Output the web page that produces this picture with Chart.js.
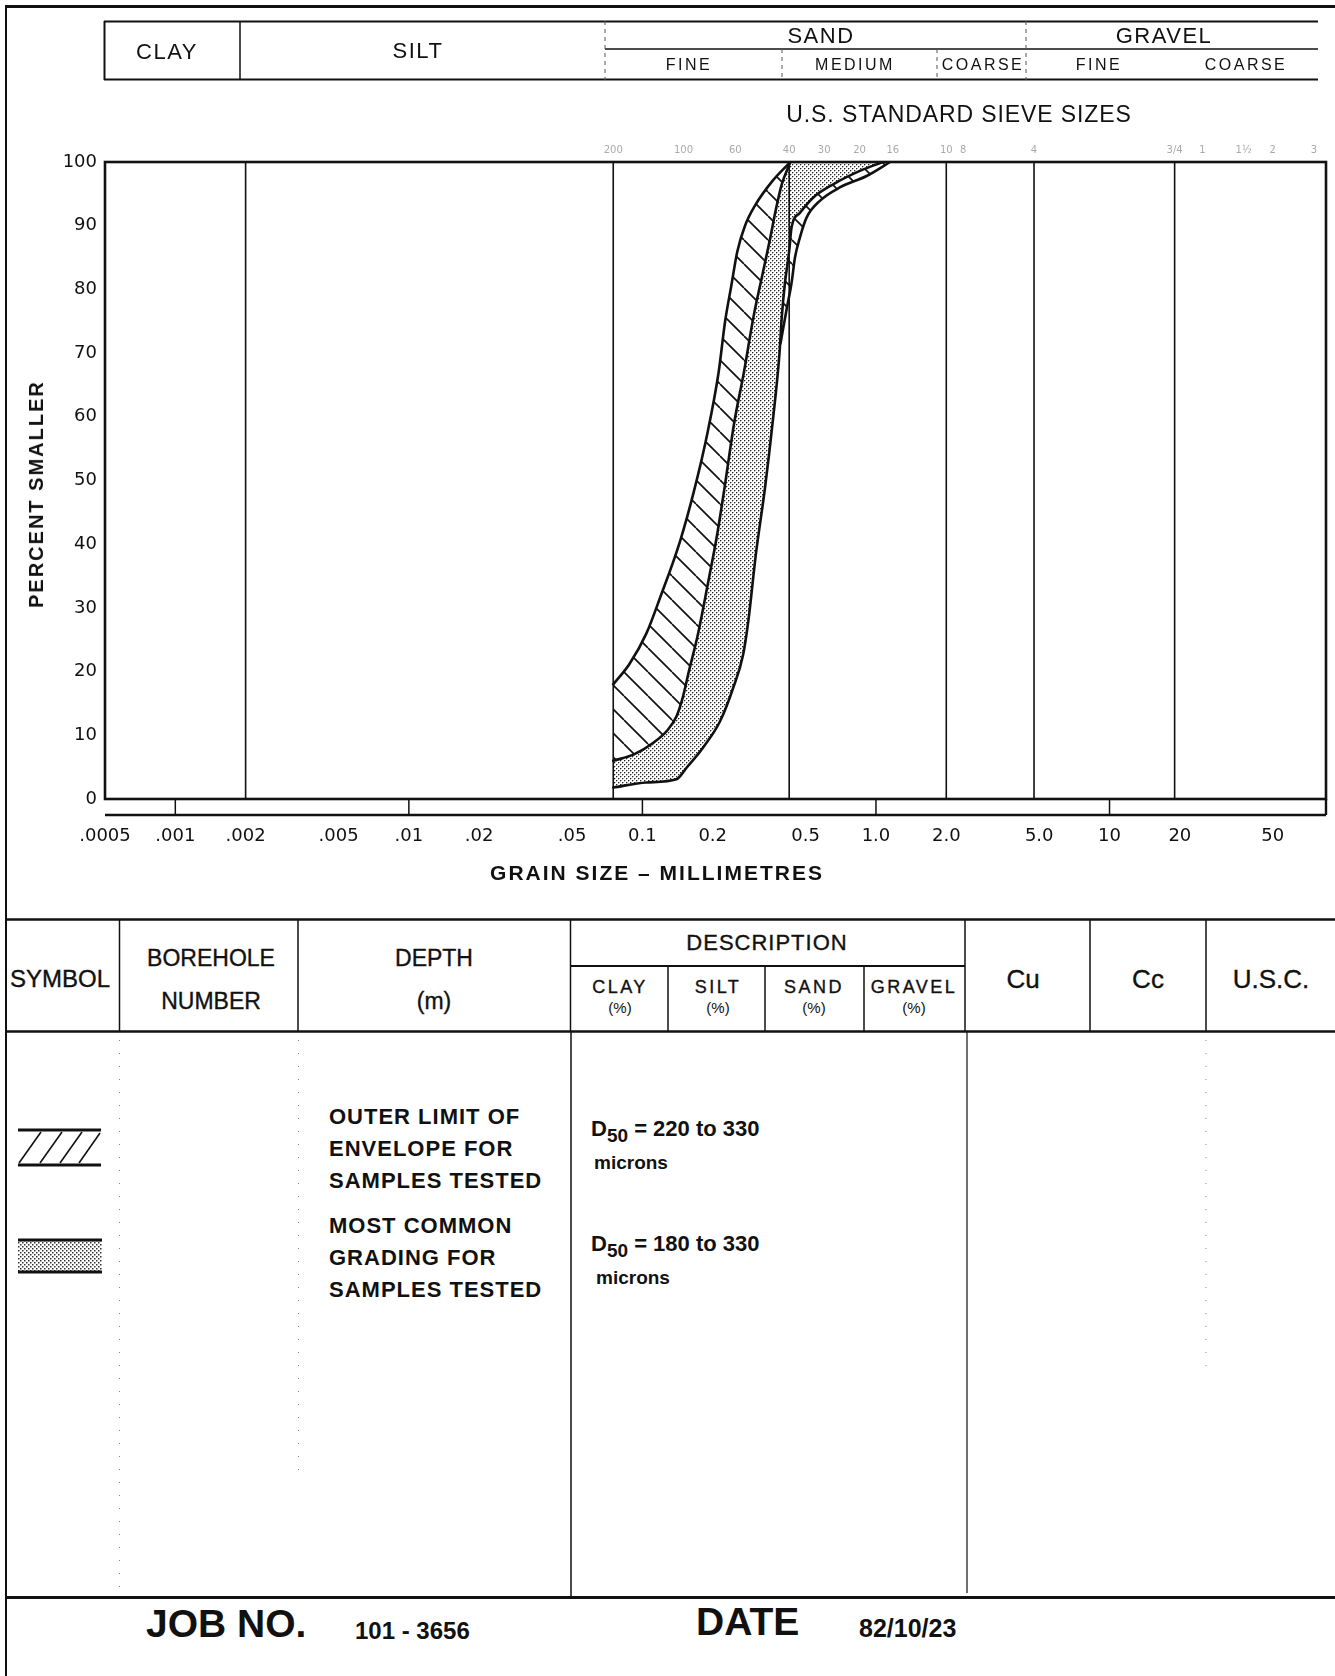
<!DOCTYPE html>
<html><head><meta charset="utf-8">
<script src="https://cdn.jsdelivr.net/npm/chart.js@4.4.1/dist/chart.umd.min.js"></script>
<style>
html,body{margin:0;padding:0;background:#fff;}
#page{position:relative;width:1335px;height:1676px;overflow:hidden;background:#fff;font-family:"Liberation Sans",Arial,Helvetica,sans-serif;color:#111;}
#frame{position:absolute;left:0;top:0;}
#chart{position:absolute;left:0;top:0;}
.t{position:absolute;white-space:nowrap;line-height:1;transform:translate(-50%,-50%);}
.l{position:absolute;white-space:nowrap;line-height:1;transform:translateY(-50%);}
.b{font-weight:bold;}
.m{-webkit-text-stroke:0.35px #111;}
</style></head><body>
<div id="page">
<svg id="frame" width="1335" height="1676" xmlns="http://www.w3.org/2000/svg">
<defs>
<pattern id="dots" width="4" height="4" patternUnits="userSpaceOnUse">
<rect x="0" y="0" width="1.5" height="1.5" fill="#333"/><rect x="2" y="2" width="1.5" height="1.5" fill="#333"/>
</pattern>
</defs>
<g stroke="#111" fill="none">
<line x1="5" y1="6.5" x2="1335" y2="6.5" stroke-width="3"/>
<line x1="6" y1="5" x2="6" y2="1676" stroke-width="2"/>
<line x1="104" y1="21.5" x2="1318" y2="21.5" stroke-width="2"/>
<line x1="605" y1="49" x2="1318" y2="49" stroke-width="1.5"/>
<line x1="104" y1="79.5" x2="1318" y2="79.5" stroke-width="2"/>
<line x1="104.5" y1="21" x2="104.5" y2="80" stroke-width="2"/>
<line x1="240" y1="21" x2="240" y2="80" stroke-width="1.5"/>
<g stroke="#555" stroke-width="1" stroke-dasharray="4 4">
<line x1="605" y1="21" x2="605" y2="80"/>
<line x1="782" y1="49" x2="782" y2="80"/>
<line x1="937" y1="49" x2="937" y2="80"/>
<line x1="1026" y1="21" x2="1026" y2="80"/>
</g>
<line x1="5" y1="919.5" x2="1335" y2="919.5" stroke-width="2.5"/>
<line x1="5" y1="1031.5" x2="1335" y2="1031.5" stroke-width="2.5"/>
<g stroke-width="1.5">
<line x1="119.5" y1="919" x2="119.5" y2="1032"/>
<line x1="298" y1="919" x2="298" y2="1032"/>
<line x1="570.5" y1="919" x2="570.5" y2="1032"/>
<line x1="965" y1="919" x2="965" y2="1032"/>
<line x1="1090" y1="919" x2="1090" y2="1032"/>
<line x1="1206" y1="919" x2="1206" y2="1032"/>
<line x1="668" y1="966" x2="668" y2="1032"/>
<line x1="765" y1="966" x2="765" y2="1032"/>
<line x1="864" y1="966" x2="864" y2="1032"/>
<line x1="571" y1="1032" x2="571" y2="1597"/>
<line x1="967" y1="1032" x2="967" y2="1593" stroke-width="1.2"/>
</g>
<line x1="570" y1="966" x2="965" y2="966" stroke-width="2"/>
<g stroke="#888" stroke-width="1" stroke-dasharray="1 12">
<line x1="119.5" y1="1040" x2="119.5" y2="1590"/>
<line x1="298.5" y1="1040" x2="298.5" y2="1470"/>
<line x1="1206" y1="1040" x2="1206" y2="1370"/>
</g>
<line x1="5" y1="1597.5" x2="1335" y2="1597.5" stroke-width="3"/>
<line x1="18" y1="1130" x2="101" y2="1130" stroke-width="3"/>
<line x1="18" y1="1165" x2="101" y2="1165" stroke-width="3"/>
<g stroke-width="1.6">
<line x1="19" y1="1163" x2="41" y2="1132"/>
<line x1="40" y1="1163" x2="62" y2="1132"/>
<line x1="60" y1="1163" x2="82" y2="1132"/>
<line x1="79" y1="1163" x2="100" y2="1133"/>
</g>
<rect x="18" y="1241" width="84" height="30" fill="url(#dots)" stroke="none"/>
<line x1="18" y1="1240" x2="102" y2="1240" stroke-width="3"/>
<line x1="18" y1="1272" x2="102" y2="1272" stroke-width="3"/>
</g>
</svg>
<canvas id="chart" width="1335" height="900" style="width:1335px;height:900px"></canvas>

<div class="t" style="left:167px;top:52px;font-size:22px;letter-spacing:1.5px">CLAY</div>
<div class="t" style="left:418px;top:51px;font-size:22px;letter-spacing:1.5px">SILT</div>
<div class="t" style="left:821px;top:36px;font-size:22px;letter-spacing:1.5px">SAND</div>
<div class="t" style="left:1164px;top:36px;font-size:22px;letter-spacing:1.5px">GRAVEL</div>
<div class="t" style="left:689px;top:65px;font-size:16px;letter-spacing:2.5px">FINE</div>
<div class="t" style="left:855px;top:65px;font-size:16px;letter-spacing:2.5px">MEDIUM</div>
<div class="t" style="left:983px;top:65px;font-size:16px;letter-spacing:2.5px">COARSE</div>
<div class="t" style="left:1099px;top:65px;font-size:16px;letter-spacing:2.5px">FINE</div>
<div class="t" style="left:1246px;top:65px;font-size:16px;letter-spacing:2.5px">COARSE</div>
<div class="t" style="left:959px;top:114px;font-size:23px;letter-spacing:0.9px">U.S. STANDARD SIEVE SIZES</div>

<div class="t b" style="left:36px;top:494px;font-size:20px;letter-spacing:2px;transform:translate(-50%,-50%) rotate(-90deg)">PERCENT SMALLER</div>
<div class="t b" style="left:657px;top:872px;font-size:21px;letter-spacing:2px">GRAIN SIZE – MILLIMETRES</div>

<div class="t m" style="left:60px;top:979px;font-size:24px">SYMBOL</div>
<div class="t m" style="left:211px;top:958px;font-size:23px">BOREHOLE</div>
<div class="t m" style="left:211px;top:1001px;font-size:23px">NUMBER</div>
<div class="t m" style="left:434px;top:958px;font-size:23px">DEPTH</div>
<div class="t m" style="left:434px;top:1001px;font-size:23px">(m)</div>
<div class="t m" style="left:767px;top:943px;font-size:22px;letter-spacing:1px">DESCRIPTION</div>
<div class="t m" style="left:620px;top:987px;font-size:18px;letter-spacing:2.5px">CLAY</div>
<div class="t" style="left:620px;top:1007px;font-size:15px">(%)</div>
<div class="t m" style="left:718px;top:987px;font-size:18px;letter-spacing:2.5px">SILT</div>
<div class="t" style="left:718px;top:1007px;font-size:15px">(%)</div>
<div class="t m" style="left:814px;top:987px;font-size:18px;letter-spacing:2.5px">SAND</div>
<div class="t" style="left:814px;top:1007px;font-size:15px">(%)</div>
<div class="t m" style="left:914px;top:987px;font-size:18px;letter-spacing:2.5px">GRAVEL</div>
<div class="t" style="left:914px;top:1007px;font-size:15px">(%)</div>
<div class="t m" style="left:1023px;top:979px;font-size:26px">Cu</div>
<div class="t m" style="left:1148px;top:979px;font-size:26px">Cc</div>
<div class="t m" style="left:1271px;top:979px;font-size:26px">U.S.C.</div>

<div class="l b" style="left:329px;top:1117px;font-size:22px;letter-spacing:1px">OUTER LIMIT OF</div>
<div class="l b" style="left:329px;top:1149px;font-size:22px;letter-spacing:1px">ENVELOPE FOR</div>
<div class="l b" style="left:329px;top:1181px;font-size:22px;letter-spacing:1px">SAMPLES TESTED</div>
<div class="l b" style="left:329px;top:1226px;font-size:22px;letter-spacing:1px">MOST COMMON</div>
<div class="l b" style="left:329px;top:1258px;font-size:22px;letter-spacing:1px">GRADING FOR</div>
<div class="l b" style="left:329px;top:1290px;font-size:22px;letter-spacing:1px">SAMPLES TESTED</div>

<div class="l b" style="left:591px;top:1129px;font-size:22px">D<span style="font-size:19px;position:relative;top:6px">50</span> = 220 to 330</div>
<div class="l b" style="left:594px;top:1162px;font-size:19px">microns</div>
<div class="l b" style="left:591px;top:1244px;font-size:22px">D<span style="font-size:19px;position:relative;top:6px">50</span> = 180 to 330</div>
<div class="l b" style="left:596px;top:1277px;font-size:19px">microns</div>

<div class="l b" style="left:146px;top:1623px;font-size:39px">JOB NO.</div>
<div class="l b" style="left:355px;top:1631px;font-size:24px">101 - 3656</div>
<div class="l b" style="left:696px;top:1621px;font-size:39px">DATE</div>
<div class="l b" style="left:859px;top:1628px;font-size:25px">82/10/23</div>
</div>

<script>
// ---- data ----
const xTickValues = [0.0005, 0.001, 0.002, 0.005, 0.01, 0.02, 0.05, 0.1, 0.2, 0.5, 1, 2, 5, 10, 20, 50];
const xTickLabels = ['.0005', '.001', '.002', '.005', '.01', '.02', '.05', '0.1', '0.2', '0.5', '1.0', '2.0', '5.0', '10', '20', '50'];
const yTickValues = [0, 10, 20, 30, 40, 50, 60, 70, 80, 90, 100];
const sieveSizes = [0.075, 0.15, 0.25, 0.425, 0.6, 0.85, 1.18, 2.0, 2.36, 4.75, 19, 25, 37.5, 50, 75];
const sieveLabels = ['200', '100', '60', '40', '30', '20', '16', '10', '8', '4', '3/4', '1', '1½', '2', '3'];
const classBoundaries = [0.002, 0.075, 0.425, 2.0, 4.75, 19];
const decadeMarks = [0.001, 0.01, 0.1, 1, 10];
const xMin = 0.0005, xMax = 84.5;

// outer limit of envelope, fine side
const envelopeLeftSize = [0.075, 0.088, 0.104, 0.119, 0.145, 0.168, 0.19, 0.212, 0.226, 0.24, 0.255, 0.275, 0.305, 0.36, 0.43];
const envelopeLeftPct  = [18, 21.2, 26, 31.6, 40.5, 49, 57.5, 67, 75, 80.5, 86, 90, 93.3, 97, 100];
// most common grading, fine side
const commonLeftSize = [0.075, 0.092, 0.111, 0.128, 0.14, 0.149, 0.158, 0.172, 0.19, 0.21, 0.225, 0.247, 0.272, 0.3, 0.325, 0.35, 0.375, 0.395, 0.43];
const commonLeftPct  = [6, 7, 8.8, 10.8, 13, 16, 20, 25.5, 33.5, 42, 49, 59, 67, 76, 82, 87.5, 93, 96.5, 100];
// most common grading, coarse side
const commonRightSize = [0.075, 0.104, 0.14, 0.1545, 0.182, 0.215, 0.245, 0.27, 0.284, 0.306, 0.335, 0.3615, 0.386, 0.395, 0.407, 0.425, 0.435, 0.472, 0.538, 0.656, 0.853, 1.07];
const commonRightPct  = [1.8, 2.6, 3.1, 4.9, 8.1, 12.2, 17.5, 22.7, 27.9, 38.4, 48.9, 59.3, 69.8, 75.6, 80.8, 86, 89.7, 92, 94.4, 96.5, 98.6, 100];
// outer limit of envelope, coarse side
const envelopeRightSize = [0.39, 0.415, 0.435, 0.45, 0.472, 0.505, 0.575, 0.70, 0.912, 1.15];
const envelopeRightPct  = [71.5, 77, 81, 85, 88.1, 91.3, 93.9, 96, 97.8, 100];

// ---- patterns ----
function hatchPattern() {
  const s = 24, c = document.createElement('canvas');
  c.width = s; c.height = s;
  const g = c.getContext('2d');
  g.fillStyle = '#fff'; g.fillRect(0, 0, s, s);
  g.strokeStyle = '#111'; g.lineWidth = 1.7;
  for (const k of [-1, 0, 1]) { g.beginPath(); g.moveTo(k * s, 0); g.lineTo(k * s + s, s); g.stroke(); }
  return g.createPattern(c, 'repeat');
}
function dotPattern() {
  const c = document.createElement('canvas');
  c.width = 4; c.height = 4;
  const g = c.getContext('2d');
  g.fillStyle = '#fff'; g.fillRect(0, 0, 4, 4);
  g.fillStyle = '#222'; g.fillRect(0, 0, 1, 1); g.fillRect(2, 2, 1, 1);
  g.fillStyle = 'rgba(0,0,0,0.3)';
  g.fillRect(1, 0, 1, 1); g.fillRect(0, 1, 1, 1); g.fillRect(3, 2, 1, 1); g.fillRect(2, 3, 1, 1);
  return g.createPattern(c, 'repeat');
}
const pts = (xs, ys) => xs.map((x, i) => ({x: x, y: ys[i]}));
const lineStyle = {borderColor: '#111', borderWidth: 2.6, pointRadius: 0, cubicInterpolationMode: 'monotone', borderJoinStyle: 'round', borderCapStyle: 'round'};

const framePlugin = {
  id: 'frame',
  afterDatasetsDraw(chart) {
    const {ctx, chartArea: a} = chart;
    const x = chart.scales.x;
    const ln = (x1, y1, x2, y2) => { ctx.beginPath(); ctx.moveTo(x1, y1); ctx.lineTo(x2, y2); ctx.stroke(); };
    ctx.save();
    ctx.strokeStyle = '#111';
    ctx.lineWidth = 1.6;
    classBoundaries.forEach(v => { const p = x.getPixelForValue(v); ln(p, a.top, p, a.bottom); });
    const sb = a.bottom + 16;
    ctx.lineWidth = 1.5;
    decadeMarks.forEach(v => { const p = x.getPixelForValue(v); ln(p, a.bottom, p, sb); });
    ctx.lineWidth = 2.4;
    ln(a.left, sb, a.right, sb);
    ln(a.right, a.bottom, a.right, sb);
    ctx.lineWidth = 2.6;
    ctx.strokeRect(a.left, a.top, a.right - a.left, a.bottom - a.top);
    ctx.restore();
  }
};

new Chart(document.getElementById('chart'), {
  type: 'line',
  data: {
    datasets: [
      Object.assign({label: 'Outer limit (fine side)', data: pts(envelopeLeftSize, envelopeLeftPct), backgroundColor: '#fff', fill: 'end'}, lineStyle),
      Object.assign({label: 'Most common (fine side)', data: pts(commonLeftSize, commonLeftPct), backgroundColor: hatchPattern(), fill: 'end'}, lineStyle),
      Object.assign({label: 'Most common (coarse side)', data: pts(commonRightSize, commonRightPct), backgroundColor: dotPattern(), fill: 'end'}, lineStyle),
      Object.assign({label: 'Outer limit (coarse side)', data: pts(envelopeRightSize, envelopeRightPct), backgroundColor: hatchPattern(), fill: 'end'}, lineStyle)
    ]
  },
  options: {
    responsive: false,
    animation: false,
    devicePixelRatio: 1,
    layout: {padding: {top: 0, right: 9, bottom: 0, left: 0}},
    plugins: {legend: {display: false}, tooltip: {enabled: false}},
    scales: {
      x: {
        type: 'logarithmic', position: 'bottom', min: xMin, max: xMax,
        afterBuildTicks: s => { s.ticks = xTickValues.map(v => ({value: v})); },
        afterFit: s => { s.height = 101; },
        ticks: {callback: (v, i) => xTickLabels[i], autoSkip: false, maxRotation: 0, padding: 27, color: '#111', font: {family: 'DejaVu Sans', size: 18}},
        grid: {display: false, drawTicks: false},
        border: {display: false}
      },
      xTop: {
        type: 'logarithmic', position: 'top', min: xMin, max: xMax,
        afterBuildTicks: s => { s.ticks = sieveSizes.map(v => ({value: v})); },
        afterFit: s => { s.height = 162; },
        ticks: {callback: (v, i) => sieveLabels[i], autoSkip: false, maxRotation: 0, padding: 6, color: '#aaa', font: {family: 'DejaVu Sans', size: 10}},
        grid: {display: false, drawTicks: false},
        border: {display: false}
      },
      y: {
        type: 'linear', position: 'left', min: 0, max: 100,
        afterBuildTicks: s => { s.ticks = yTickValues.map(v => ({value: v})); },
        afterFit: s => { s.width = 105; },
        ticks: {padding: 8, color: '#111', font: {family: 'DejaVu Sans', size: 18}},
        grid: {display: false, drawTicks: false},
        border: {display: false}
      }
    }
  },
  plugins: [framePlugin]
});
</script>
</body></html>
